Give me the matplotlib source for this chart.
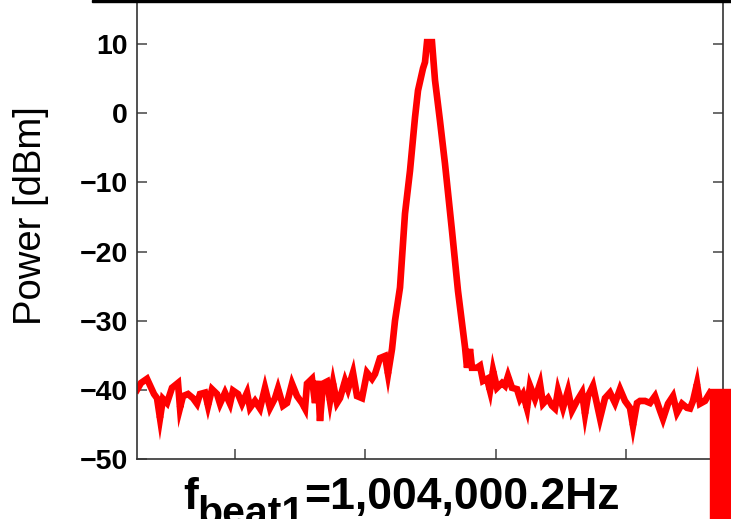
import numpy as np
import matplotlib
matplotlib.use('Agg')
import matplotlib.pyplot as plt
from matplotlib.patches import Rectangle

plt.rcParams['font.family'] = ['Liberation Sans', 'DejaVu Sans']

# frequency bin (span 0..586) and measured power in dBm
freq_bin = [0, 4, 10, 17, 20, 23, 26, 30, 35, 41, 43, 46, 51, 56, 60, 63, 68, 71, 75, 80,
            83, 88, 93, 96, 101, 105, 110, 113, 118, 123, 128, 133, 138, 141, 146, 150,
            155, 160, 165, 168, 170, 175, 178, 181, 183, 186, 190, 193, 196, 200, 203,
            208, 211, 216, 220, 225, 230, 235, 238, 243, 248, 251, 255, 258, 263, 268,
            273, 278, 281, 286, 288, 290, 295, 298, 303, 308, 315, 321, 326, 328, 330,
            333, 335, 340, 343, 346, 350, 353, 356, 360, 365, 368, 371, 375, 380, 383,
            386, 390, 393, 398, 403, 406, 411, 415, 418, 421, 426, 431, 435, 440, 445,
            448, 451, 456, 463, 468, 473, 478, 483, 488, 493, 496, 500, 503, 508, 513,
            518, 523, 526, 531, 536, 540, 545, 550, 553, 556, 560, 563, 568, 573, 579, 586]
power_dbm = [-40.0, -39.0, -38.4, -40.6, -41.2, -44.1, -41.3, -41.9, -39.7, -39.0, -42.6,
             -40.9, -40.6, -41.2, -42.0, -40.6, -40.4, -42.3, -39.9, -40.6, -42.0, -40.4,
             -42.0, -40.1, -40.6, -42.0, -40.4, -42.6, -41.6, -42.7, -39.7, -42.6, -41.2,
             -39.8, -42.3, -41.9, -39.1, -40.9, -41.9, -42.7, -39.1, -38.4, -41.9, -38.7,
             -44.5, -39.1, -38.8, -41.6, -39.0, -41.9, -41.2, -38.7, -39.9, -37.5, -40.9,
             -41.2, -37.5, -38.4, -37.7, -35.4, -35.1, -37.7, -34.1, -30.0, -25.2, -14.5,
             -8.3, -0.6, 3.3, 6.5, 7.4, 10.3, 10.3, 4.8, -1.1, -7.3, -17.0, -25.7, -31.5,
             -33.8, -36.8, -34.1, -36.8, -36.8, -36.5, -38.7, -38.4, -40.1, -37.2, -39.7,
             -39.0, -39.4, -38.0, -39.7, -39.9, -41.3, -40.6, -42.7, -39.4, -41.3, -39.1,
             -42.0, -41.2, -42.3, -42.7, -40.1, -42.6, -40.1, -43.0, -41.6, -40.4, -43.5,
             -40.9, -39.4, -44.1, -41.2, -40.4, -41.9, -39.9, -41.6, -42.6, -45.2, -41.9,
             -41.6, -41.6, -41.9, -40.9, -43.0, -44.2, -42.0, -40.9, -43.3, -42.0, -42.6,
             -42.7, -41.6, -39.1, -42.0, -41.6, -40.4, -41.0, -41.0]

y_ticks = [-50, -40, -30, -20, -10, 0, 10]
x_ticks = [98, 228, 359, 489]

fig = plt.figure(figsize=(7.31, 5.19), dpi=100)
ax = fig.add_axes([137 / 731, 60 / 519, 586 / 731, 459 / 519])

ax.plot(freq_bin, power_dbm, color='#ff0000', lw=4.8, solid_joinstyle='miter')

ax.set_xlim(0, 586)
ax.set_ylim(-50, 16.4)
ax.set_yticks(y_ticks)
ax.set_xticks(x_ticks)
ax.set_xticklabels([])
ax.tick_params(axis='y', direction='in', length=7, width=1.1, color='#444444',
               right=True, pad=6.5, labelsize=20.5)
ax.tick_params(axis='x', direction='in', length=7, width=1.1, color='#444444')
for lbl in ax.get_yticklabels():
    lbl.set_fontweight('bold')
ax.spines['top'].set_visible(False)
for s in ['left', 'right', 'bottom']:
    ax.spines[s].set_color('#333333')
    ax.spines[s].set_linewidth(1.2)

fig.text(31 / 731, 0.584, 'Power [dBm]', rotation=90, ha='center', va='center', fontsize=27.5)

# x label built from pieces so the subscript sits low like the original
fig.text(183 / 731, 10 / 519, 'f', fontsize=32, fontweight='bold', ha='left', va='baseline')
fig.text(197 / 731, -6 / 519, 'beat1', fontsize=29.5, fontweight='bold', ha='left', va='baseline')
fig.text(304 / 731, 10 / 519, '=1,004,000.2Hz', fontsize=32, fontweight='bold', ha='left', va='baseline')

# top border line and red block at lower right
fig.patches.append(Rectangle((92 / 731, 517 / 519), 639 / 731, 2 / 519, transform=fig.transFigure,
                             color='black', zorder=5))
fig.patches.append(Rectangle((710 / 731, 0), 21 / 731, 130 / 519, transform=fig.transFigure,
                             color='#ff0000', zorder=5))

fig.savefig('out.png', dpi=100)
